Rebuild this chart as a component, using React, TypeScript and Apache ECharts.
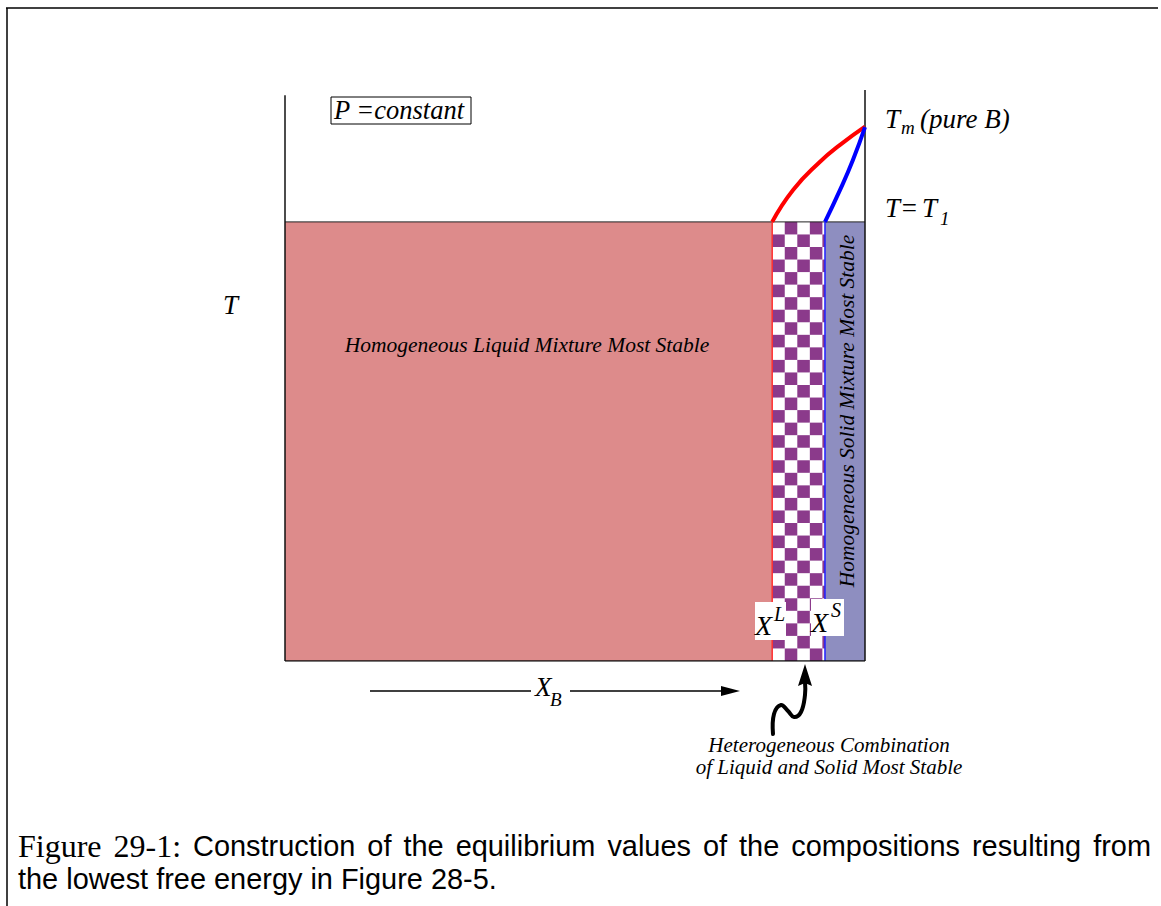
import React, { useEffect, useRef } from "react";
import * as echarts from "echarts";

// ---- data (composition X_B on x, temperature T on y, both normalised 0..1) ----
const xL = 0.84; // liquid composition at T1
const xS = 0.931; // solid composition at T1
const T1 = 0.769; // temperature T = T1
const leftAxisTop = 0.991;
const rightAxisTop = 1.0;
const liquidus: number[][] = [
  [0.84, 0.769],
  [0.876, 0.825],
  [0.922, 0.874],
  [0.957, 0.904],
  [1.0, 0.936],
];
const solidus: number[][] = [
  [0.931, 0.769],
  [0.957, 0.825],
  [0.979, 0.877],
  [1.0, 0.935],
];
// regions: [x0, x1, kind]  kind 0 = liquid, 1 = two-phase, 2 = solid
const regionData: number[][] = [
  [0, xL, 0],
  [xL, xS, 1],
  [xS, 1, 2],
];
const regionColors = ["#dd8b8b", "#8b3a8b", "#8e8ec0"];
const checkerRows = 35;

const captionLine1Serif = ["Figure", "29-1:"];
const captionLine1Sans = [
  "Construction", "of", "the", "equilibrium", "values", "of", "the", "compositions", "resulting", "from",
];
const captionLine2 = "the lowest free energy in Figure 28-5.";

const SERIF = "'Liberation Serif', 'Times New Roman', serif";
const SANS = "'Liberation Sans', Arial, sans-serif";

function txt(x: number, y: number, text: string, size: number, opts: any = {}) {
  return {
    type: "text",
    x,
    y,
    rotation: opts.rotation || 0,
    z: 10,
    style: {
      text,
      fill: "#000",
      fontFamily: opts.family || SERIF,
      fontStyle: opts.italic === false ? "normal" : "italic",
      fontSize: size,
      align: opts.align || "left",
      verticalAlign: "middle",
      textAlign: opts.align || "left",
      textVerticalAlign: "middle",
    },
  };
}

function measure(text: string, font: string): number {
  const c = document.createElement("canvas").getContext("2d")!;
  c.font = font;
  return c.measureText(text).width;
}

export default function App() {
  const ref = useRef<HTMLDivElement>(null);
  useEffect(() => {
    document.body.style.margin = "0";
    const chart = echarts.init(ref.current!, undefined, { renderer: "svg" });
    const lineSeries = (data: number[][], color: string, width: number, smooth = false) => ({
      type: "line",
      data,
      symbol: "none",
      smooth,
      silent: true,
      lineStyle: { color, width },
      z: 3,
    });

    // caption font sizes fitted to the reference's natural line widths
    const lineStart = 18;
    const lineEnd = 1151;
    let sansSize = 27;
    const l2w = measure(captionLine2, `${sansSize}px ${SANS}`);
    if (l2w > 0) sansSize = Math.min(30, Math.max(24, (sansSize * 479) / l2w));
    let serifSize = 29;
    const sw = measure(captionLine1Serif.join(" "), `${serifSize}px ${SERIF}`);
    if (sw > 0) serifSize = Math.min(32, Math.max(25, (serifSize * 169) / sw));

    // justified caption line 1 (LaTeX style)
    const words = [
      ...captionLine1Serif.map((w) => ({ w, fam: SERIF, size: serifSize })),
      ...captionLine1Sans.map((w) => ({ w, fam: SANS, size: sansSize })),
    ];
    const widths = words.map((o) => measure(o.w, `${o.size}px ${o.fam}`));
    const total = widths.reduce((a, b) => a + b, 0);
    const gap = (lineEnd - lineStart - total) / (words.length - 1);
    let cx = lineStart;
    const captionEls: any[] = words.map((o, i) => {
      const el = txt(cx, 846, o.w, o.size, { family: o.fam, italic: false });
      cx += widths[i] + gap;
      return el;
    });
    captionEls.push(txt(18, 879, captionLine2, sansSize, { family: SANS, italic: false }));

    chart.setOption({
      animation: false,
      backgroundColor: "#fff",
      grid: { left: 285, right: 296, top: 90, bottom: 245 },
      xAxis: { type: "value", min: 0, max: 1, show: false },
      yAxis: { type: "value", min: 0, max: 1, show: false },
      series: [
        {
          type: "custom",
          silent: true,
          z: 1,
          data: regionData,
          renderItem: (params: any, api: any) => {
            const x0 = api.value(0);
            const x1 = api.value(1);
            const kind = api.value(2);
            const p0 = api.coord([x0, T1]);
            const p1 = api.coord([x1, 0]);
            const x = p0[0];
            const y = p0[1];
            const w = p1[0] - p0[0];
            const h = p1[1] - p0[1];
            if (kind === 1) {
              const cell = h / checkerRows;
              const cols = Math.ceil(w / cell);
              const children: any[] = [
                { type: "rect", shape: { x, y, width: w, height: h }, style: { fill: "#fff" } },
              ];
              for (let r = 0; r < checkerRows; r++) {
                for (let c = 0; c < cols; c++) {
                  if ((r + c) % 2 === 1) {
                    const cw = Math.min(cell, w - c * cell);
                    if (cw <= 0) continue;
                    children.push({
                      type: "rect",
                      shape: { x: x + c * cell, y: y + r * cell, width: cw, height: cell },
                      style: { fill: regionColors[1] },
                    });
                  }
                }
              }
              return { type: "group", children };
            }
            return {
              type: "rect",
              shape: { x, y, width: w, height: h },
              style: { fill: regionColors[kind] },
            };
          },
        },
        lineSeries([[0, T1], [1, T1]], "#222", 1),
        lineSeries([[xL, 0], [xL, T1]], "#ff3030", 1.5),
        lineSeries([[xS, 0], [xS, T1]], "#2020ff", 1.5),
        lineSeries([[0, 0], [0, leftAxisTop]], "#111", 1.5),
        lineSeries([[1, 0], [1, rightAxisTop]], "#111", 1.5),
        lineSeries([[0, 0], [1, 0]], "#111", 1.5),
        lineSeries(liquidus, "#ff0000", 4, true),
        lineSeries(solidus, "#0000ff", 4, true),
      ],
      graphic: [
        // outer frame
        { type: "line", shape: { x1: 6, y1: 8, x2: 1158, y2: 8 }, style: { stroke: "#000", lineWidth: 1.5 } },
        { type: "line", shape: { x1: 7, y1: 8, x2: 7, y2: 906 }, style: { stroke: "#000", lineWidth: 1.5 } },
        // P = constant box
        {
          type: "rect",
          shape: { x: 331, y: 97, width: 140, height: 27 },
          style: { fill: "#fff", stroke: "#000", lineWidth: 1 },
        },
        txt(334, 110, "P =constant", 26.5),
        // T_m (pure B)
        txt(885, 119, "T", 27),
        txt(901, 127, "m", 19),
        txt(920, 119, "(pure B)", 27),
        // T = T1
        txt(885, 208, "T=", 27),
        txt(922, 208, "T", 27),
        txt(940, 218, "1", 19),
        // T axis label
        txt(223, 305, "T", 27),
        // region labels
        txt(527, 345, "Homogeneous Liquid Mixture Most Stable", 21.5, { align: "center" }),
        txt(847, 411, "Homogeneous Solid Mixture Most Stable", 21.5, {
          align: "center",
          rotation: Math.PI / 2,
        }),
        // X^L and X^S
        { type: "rect", shape: { x: 755, y: 602, width: 31, height: 38 }, style: { fill: "#fff" }, z: 9 },
        { type: "rect", shape: { x: 811, y: 599, width: 33, height: 37 }, style: { fill: "#fff" }, z: 9 },
        txt(755, 625, "X", 28),
        txt(774, 614, "L", 20),
        txt(811, 622, "X", 28),
        txt(831, 610, "S", 20),
        // X_B arrow
        { type: "line", shape: { x1: 370, y1: 691, x2: 728, y2: 691 }, style: { stroke: "#000", lineWidth: 1.5 } },
        { type: "polygon", shape: { points: [[740, 691], [721, 686], [721, 696]] }, style: { fill: "#000" } },
        { type: "rect", shape: { x: 531, y: 676, width: 39, height: 34 }, style: { fill: "#fff" }, z: 9 },
        txt(535, 687, "X", 27),
        txt(550, 699, "B", 19),
        // squiggly arrow
        {
          type: "polyline",
          shape: {
            points: [
              [773, 734],
              [774, 714],
              [781, 705],
              [788, 711],
              [794, 717],
              [801, 712],
              [805, 695],
              [805, 682],
            ],
            smooth: 0.4,
          },
          style: { stroke: "#000", lineWidth: 4, fill: null, lineCap: "round" },
        },
        { type: "polygon", shape: { points: [[805, 664], [798, 686], [805, 683], [812, 686]] }, style: { fill: "#000" } },
        txt(829, 745, "Heterogeneous Combination", 21, { align: "center" }),
        txt(829, 767, "of Liquid and Solid Most Stable", 21, { align: "center" }),
        // caption
        ...captionEls,
      ],
    });
    return () => chart.dispose();
  }, []);
  return (
    <div
      ref={ref}
      style={{ position: "absolute", left: 0, top: 0, width: 1161, height: 906 }}
    />
  );
}
